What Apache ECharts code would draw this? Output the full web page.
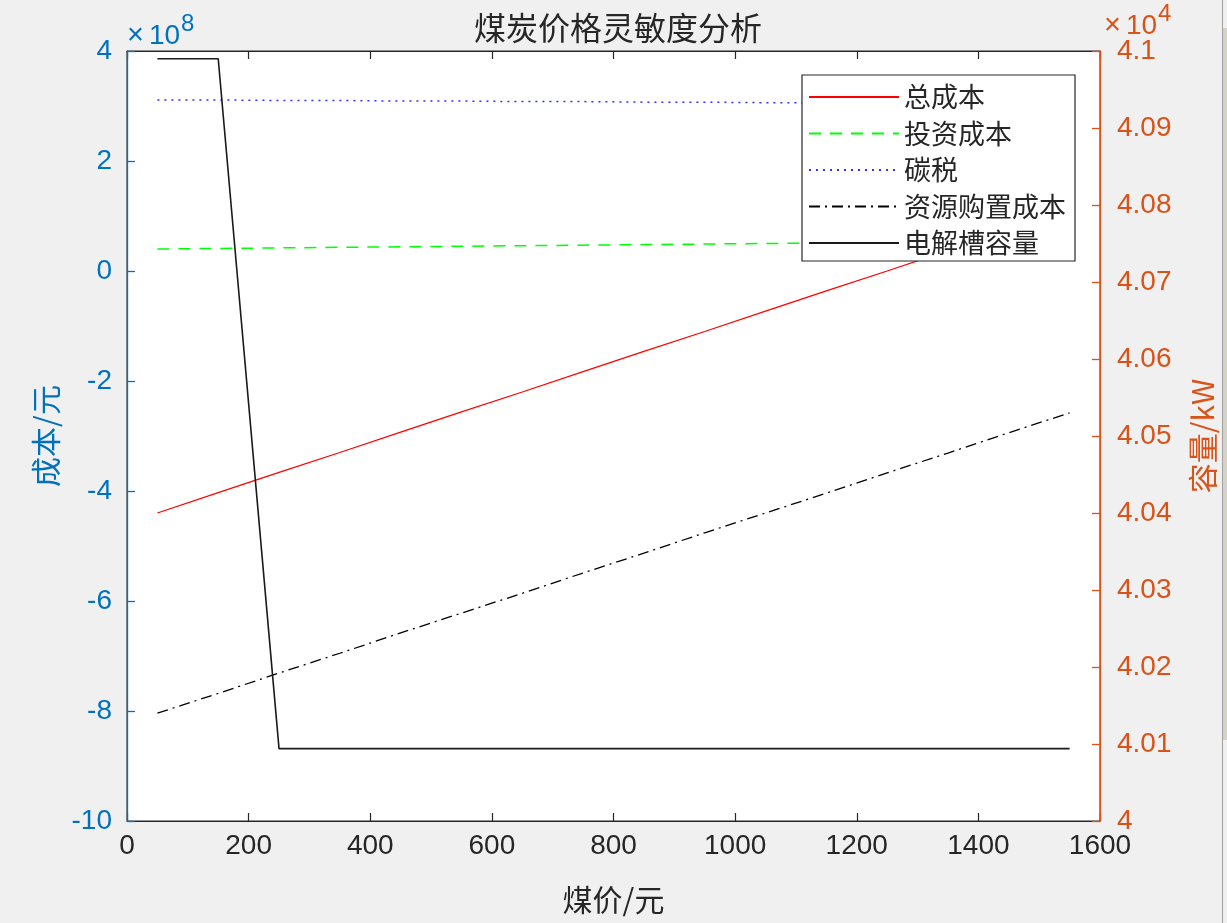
<!DOCTYPE html>
<html>
<head>
<meta charset="utf-8">
<script src="https://cdn.jsdelivr.net/npm/echarts@6/dist/echarts.min.js"></script>
<style>
html,body{margin:0;padding:0;background:#f0f0f0;}
#c{width:1227px;height:923px;}
</style>
</head>
<body>
<div id="c"></div>
<script>
// Coal price (yuan)
var coalPrice = [50,150,250,350,450,550,650,750,850,950,1050,1150,1250,1350,1450,1550];
// Costs in units of 1e8 yuan
var totalCost    = [-4.40,-4.03,-3.66,-3.30,-2.93,-2.56,-2.20,-1.83,-1.46,-1.10,-0.73,-0.36,0.00,0.37,0.74,1.10];
var investCost   = [0.40,0.41,0.42,0.43,0.44,0.45,0.46,0.47,0.48,0.49,0.50,0.51,0.52,0.53,0.54,0.55];
var carbonTax    = [3.11,3.11,3.10,3.10,3.09,3.09,3.08,3.08,3.07,3.07,3.06,3.06,3.05,3.05,3.04,3.04];
var resourceCost = [-8.04,-7.68,-7.31,-6.95,-6.58,-6.22,-5.86,-5.49,-5.13,-4.76,-4.40,-4.04,-3.67,-3.31,-2.94,-2.58];
// Electrolyzer capacity (kW)
var capacity     = [40990,40990,40094,40094,40094,40094,40094,40094,40094,40094,40094,40094,40094,40094,40094,40094];
var seriesNames = ['总成本','投资成本','碳税','资源购置成本','电解槽容量'];

function pairs(arr){ return coalPrice.map(function(x,i){ return [x, arr[i]]; }); }

var BLUE = '#0072BD', ORANGE = '#D95319', DARK = '#262626';
var NUM_FONT = 'Liberation Sans, Arial, sans-serif';
var CJK_FONT = 'Noto Sans CJK SC, sans-serif';

var chart = echarts.init(document.getElementById('c'));
chart.setOption({
  backgroundColor: '#f0f0f0',
  animation: false,
  title: {
    text: '煤炭价格灵敏度分析',
    left: 613, top: 7, textAlign: 'center',
    textStyle: {fontFamily: CJK_FONT, fontSize: 32, fontWeight: 'normal', color: DARK}
  },
  grid: {left: 127, right: 127, top: 51, bottom: 102, show: true, z: -1,
         backgroundColor: '#fff', borderColor: DARK, borderWidth: 1},
  legend: {
    orient: 'vertical', left: 802, top: 75,
    itemWidth: 90, itemHeight: 14, itemGap: 8.5,
    padding: [8, 9, 4, 6],
    backgroundColor: '#fff', borderColor: DARK, borderWidth: 1.2,
    itemStyle: {opacity: 0},
    textStyle: {fontFamily: CJK_FONT, fontSize: 27, color: DARK, lineHeight: 28},
    data: seriesNames
  },
  xAxis: [{
    type: 'value', min: 0, max: 1600, interval: 200, position: 'bottom', z: 5,
    name: '煤价/元', nameLocation: 'middle', nameGap: 64,
    nameTextStyle: {fontFamily: CJK_FONT, fontSize: 30, color: DARK},
    axisLine: {onZero: false, lineStyle: {color: DARK, width: 1.2}},
    axisTick: {inside: true, length: 8, lineStyle: {color: DARK, width: 1.2}},
    axisLabel: {fontFamily: NUM_FONT, fontSize: 28, color: DARK, margin: 11,
                formatter: function(v){ return String(v); }},
    splitLine: {show: false}
  },{
    type: 'value', min: 0, max: 1600, interval: 200, position: 'top', z: 5,
    axisLine: {onZero: false, lineStyle: {color: DARK, width: 1.2}},
    axisTick: {inside: true, length: 8, lineStyle: {color: DARK, width: 1.2}},
    axisLabel: {show: false},
    splitLine: {show: false}
  }],
  yAxis: [{
    type: 'value', min: -10, max: 4, interval: 2, position: 'left', z: 6,
    name: '成本/元', nameLocation: 'middle', nameRotate: 90, nameGap: 64,
    nameTextStyle: {fontFamily: CJK_FONT, fontSize: 30, color: BLUE},
    axisLine: {show: true, onZero: false, lineStyle: {color: BLUE, width: 1.3}},
    axisTick: {show: true, inside: true, length: 8, lineStyle: {color: BLUE, width: 1.3}},
    axisLabel: {fontFamily: NUM_FONT, fontSize: 28, color: BLUE, margin: 15},
    splitLine: {show: false}
  },{
    type: 'value', min: 40000, max: 41000, interval: 100, position: 'right', z: 6,
    name: '容量/kW', nameLocation: 'middle', nameRotate: 90, nameGap: 88,
    nameTextStyle: {fontFamily: CJK_FONT, fontSize: 30, color: ORANGE, verticalAlign: 'top'},
    axisLine: {show: true, onZero: false, lineStyle: {color: ORANGE, width: 1.3}},
    axisTick: {show: true, inside: true, length: 8, lineStyle: {color: ORANGE, width: 1.3}},
    axisLabel: {fontFamily: NUM_FONT, fontSize: 28, color: ORANGE, margin: 17,
                formatter: function(v){ return String(+(v/10000).toFixed(2)); }},
    splitLine: {show: false}
  }],
  graphic: [
    {type: 'text', left: 127, top: 12, style: {
      text: '{a|×}{b|10}{c|8}',
      rich: {
        a: {fontFamily: NUM_FONT, fontSize: 29, fill: BLUE, verticalAlign: 'bottom', padding:[0,5,0,0]},
        b: {fontFamily: NUM_FONT, fontSize: 28, fill: BLUE, verticalAlign: 'bottom'},
        c: {fontFamily: NUM_FONT, fontSize: 24, fill: BLUE, verticalAlign: 'top', padding:[0,0,14,1]}
      }}},
    {type: 'text', left: 1104, top: 2, style: {
      text: '{a|×}{b|10}{c|4}',
      rich: {
        a: {fontFamily: NUM_FONT, fontSize: 29, fill: ORANGE, verticalAlign: 'bottom', padding:[0,5,0,0]},
        b: {fontFamily: NUM_FONT, fontSize: 28, fill: ORANGE, verticalAlign: 'bottom'},
        c: {fontFamily: NUM_FONT, fontSize: 24, fill: ORANGE, verticalAlign: 'top', padding:[0,0,14,1]}
      }}},
    {type: 'rect', shape: {x: 1222, y: 28, width: 5, height: 712}, style: {fill: '#d6d3c4'}},
    {type: 'line', shape: {x1: 1222.5, y1: 0, x2: 1222.5, y2: 923}, style: {stroke: '#a0a0a0', lineWidth: 1}}
  ],
  series: [
    {name: seriesNames[0], type: 'line', symbol: 'none', xAxisIndex: 0, yAxisIndex: 0,
     data: pairs(totalCost), lineStyle: {color: '#FF0000', width: 1.3}, itemStyle: {color: '#FF0000'}},
    {name: seriesNames[1], type: 'line', symbol: 'none', xAxisIndex: 0, yAxisIndex: 0,
     data: pairs(investCost), lineStyle: {color: '#00FF00', width: 1.5, type: [12, 9]}, itemStyle: {color: '#00FF00'}},
    {name: seriesNames[2], type: 'line', symbol: 'none', xAxisIndex: 0, yAxisIndex: 0,
     data: pairs(carbonTax), lineStyle: {color: '#3030FF', width: 1.5, type: [2, 5]}, itemStyle: {color: '#3030FF'}},
    {name: seriesNames[3], type: 'line', symbol: 'none', xAxisIndex: 0, yAxisIndex: 0,
     data: pairs(resourceCost), lineStyle: {color: '#000000', width: 1.3, type: [11, 5, 2, 5]}, itemStyle: {color: '#000000'}},
    {name: seriesNames[4], type: 'line', symbol: 'none', xAxisIndex: 0, yAxisIndex: 1,
     data: pairs(capacity), lineStyle: {color: '#1a1a1a', width: 1.6}, itemStyle: {color: '#1a1a1a'}}
  ]
});
</script>
</body>
</html>
